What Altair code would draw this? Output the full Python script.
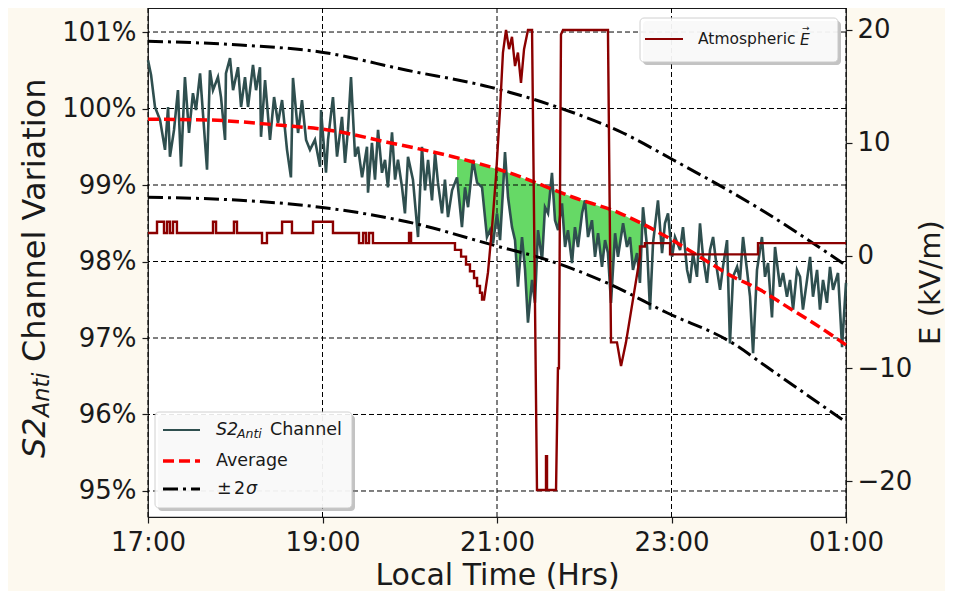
import altair as alt
import numpy as np
import pandas as pd

# ---------------- data (time = minutes after 17:00 local time) ----------------
s2_time = [0, 2.1, 4.8, 8.3, 11.7, 13.8, 15.1, 17.9, 20.6, 22.7, 25.4, 28.2, 30.9, 33.0, 35.8,
           40.6, 42.6, 44.7, 48.1, 50.2, 53.0, 53.6, 56.4, 58.5, 61.9, 64.0, 66.7, 68.8, 72.2,
           74.3, 77.0, 77.7, 80.5, 83.9, 86.7, 89.4, 92.2, 95.6, 98.3, 99.7, 103.2, 105.9,
           108.7, 111.4, 114.8, 118.3, 119.0, 122.4, 123.8, 127.2, 130.0, 133.4, 135.5, 137.5,
           139.6, 142.4, 144.4, 147.2, 150.6, 151.3, 154.0, 156.1, 158.2, 160.9, 163.0, 165.0,
           167.8, 169.9, 171.9, 174.7, 176.7, 178.8, 182.2, 185.7, 188.4, 190.5, 192.6, 195.3,
           197.4, 199.4, 202.2, 204.2, 206.3, 209.1, 212.5, 215.9, 218.0, 220.1, 223.5, 226.3,
           229.7, 233.1, 235.2, 237.3, 240.0, 242.1, 244.1, 245.5, 247.6, 250.3, 252.4, 254.4,
           257.2, 259.3, 261.3, 264.1, 266.1, 268.2, 271.0, 273.0, 275.1, 277.8, 279.9, 282.0,
           284.7, 286.8, 288.8, 291.6, 293.6, 295.7, 298.5, 300.5, 302.6, 305.3, 307.4, 309.5,
           312.2, 314.3, 316.3, 318.4, 321.2, 323.2, 326.7, 329.4, 331.5, 333.5, 336.3, 338.3,
           340.4, 343.2, 345.2, 347.3, 350.7, 353.5, 355.5, 357.6, 360.4, 362.4, 365.9, 367.9,
           370.7, 372.7, 374.8, 377.5, 379.6, 381.7, 384.4, 386.5, 388.6, 391.3, 393.4, 395.4,
           398.2, 400.2, 402.3, 405.1, 407.1, 409.2, 411.9, 414.0, 416.1, 418.8, 422.2, 424.3,
           426.4, 429.1, 431.2, 434.6, 436.7, 439.4, 441.5, 443.6, 446.3, 448.4, 450.4, 453.2,
           455.3, 457.3, 460.1, 462.1, 464.2, 466.9, 469.0, 471.1, 474.5, 477.3, 480.0]
s2_value = [100.63, 100.44, 100.02, 99.85, 99.46, 100.02, 99.37, 99.72, 100.24, 99.24, 100.41,
            99.68, 100.20, 99.98, 100.46, 99.20, 100.50, 100.24, 100.41, 100.15, 99.59, 100.46,
            100.66, 100.24, 100.54, 100.02, 100.41, 100.02, 100.57, 100.24, 100.54, 99.63,
            100.37, 99.59, 100.15, 99.81, 100.11, 99.46, 99.10, 100.40, 99.68, 100.11, 99.59,
            99.46, 99.59, 99.24, 99.98, 99.16, 99.59, 100.15, 99.37, 99.89, 99.29, 99.72,
            100.41, 99.37, 99.50, 99.10, 99.50, 98.90, 99.55, 99.07, 99.72, 99.16, 99.33, 98.97,
            99.69, 99.07, 99.33, 98.97, 98.63, 99.37, 99.07, 98.32, 99.50, 98.93, 99.33, 98.80,
            99.42, 99.03, 98.63, 99.07, 98.58, 98.93, 99.10, 98.45, 98.97, 98.71, 99.33, 99.03,
            98.97, 98.32, 98.41, 98.24, 98.63, 98.28, 98.93, 99.43, 98.84, 98.45, 98.28, 97.67,
            98.32, 97.89, 97.20, 97.76, 97.46, 98.41, 98.02, 98.71, 98.63, 99.16, 98.54, 98.41,
            98.76, 98.19, 98.41, 97.98, 98.45, 98.19, 98.63, 98.80, 98.32, 98.54, 98.06, 98.37,
            97.93, 98.28, 98.11, 97.46, 98.37, 98.06, 98.50, 98.19, 98.32, 97.89, 98.11, 97.72,
            98.71, 98.19, 97.37, 98.24, 98.80, 98.11, 98.50, 98.63, 98.06, 98.32, 98.15, 98.45,
            97.89, 97.72, 98.11, 97.80, 98.50, 98.06, 97.72, 98.15, 98.32, 97.89, 97.63, 97.93,
            98.28, 96.93, 97.80, 97.93, 97.76, 98.32, 97.89, 97.54, 96.80, 97.89, 98.32, 97.80,
            97.98, 97.27, 98.19, 97.67, 97.85, 97.54, 97.76, 97.37, 97.89, 97.80, 97.37, 97.76,
            98.06, 97.54, 97.89, 97.37, 97.76, 97.46, 97.93, 97.63, 97.85, 96.88, 97.72]

avg_time = [0, 41.3, 91.5, 123.8, 164.4, 209.7, 246.9, 292.3, 324.6, 356.9, 379.6, 402.3,
            420.9, 439.4, 457.3, 480]
avg_value = [99.86, 99.85, 99.78, 99.72, 99.56, 99.37, 99.17, 98.84, 98.63, 98.32, 98.06,
             97.80, 97.63, 97.41, 97.20, 96.91]

upper_time = [0, 63.3, 118.3, 178.1, 235.2, 281.3, 326.7, 361.0, 418.8, 480]
upper_value = [100.88, 100.83, 100.74, 100.50, 100.28, 100.02, 99.68, 99.33, 98.71, 97.95]
lower_time = [0, 63.3, 118.3, 178.1, 242.1, 269.6, 315.7, 356.9, 402.3, 425.7, 480]
lower_value = [98.84, 98.80, 98.71, 98.52, 98.19, 98.05, 97.72, 97.33, 96.93, 96.62, 95.90]

efield_time = [0, 6.2, 6.2, 11.0, 11.0, 13.1, 13.1, 15.1, 15.1, 17.2, 17.2, 19.9, 19.9,
               44.7, 44.7, 46.8, 46.8, 59.1, 59.1, 61.2, 61.2, 78.4, 78.4, 81.8, 81.8,
               92.2, 92.2, 99.0, 99.0, 113.5, 113.5, 127.2, 127.2, 145.1, 145.1, 147.9, 147.9,
               149.9, 149.9, 152.0, 152.0, 154.7, 154.7, 179.5, 179.5, 180.9, 180.9,
               211.1, 211.1, 215.3, 215.3, 218.7, 218.7, 221.4, 221.4, 224.2, 224.2, 226.3, 226.3,
               228.3, 228.3, 229.7, 229.7, 231.1, 233.8, 236.6, 239.3, 242.1, 244.1, 246.2,
               248.3, 250.3, 252.4, 254.4, 256.5, 258.6, 261.3, 264.1, 267.5, 273.7, 273.7,
               274.4, 274.4, 280.6, 281.9, 282.6, 284.0, 285.4, 316.3, 318.4, 322.5, 325.3,
               328.7, 338.3, 338.3, 341.7, 341.7, 359.0, 359.0, 419.5, 419.5, 480.0]
efield_value = [2.0, 2.0, 3.0, 3.0, 2.0, 2.0, 3.0, 3.0, 2.0, 2.0, 3.0, 3.0, 2.0,
                2.0, 3.0, 3.0, 2.0, 2.0, 3.0, 3.0, 2.0, 2.0, 1.1, 1.1, 2.0,
                2.0, 3.0, 3.0, 2.0, 2.0, 3.0, 3.0, 2.0, 2.0, 1.1, 1.1, 2.0,
                2.0, 1.1, 1.1, 2.0, 2.0, 1.1, 1.1, 2.0, 2.0, 1.1,
                1.1, 0.5, 0.5, -0.1, -0.1, -0.8, -0.8, -1.4, -1.4, -2.0, -2.0, -2.7,
                -2.7, -3.3, -3.3, -3.9, -3.9, -1.5, 2.5, 7.0, 13.0, 18.0, 20.0,
                18.3, 19.4, 16.8, 18.0, 15.3, 18.3, 20.0, 20.0, -20.8, -20.8, -17.8,
                -17.8, -20.8, -20.8, -10.0, -10.0, 19.6, 20.0, 20.0, -7.7, -7.7, -9.8,
                -7.7, -0.1, 0.8, 0.8, 1.1, 1.1, 0.1, 0.1, 1.1, 1.1]

x_tick_values = [0, 120, 240, 360, 480]
x_tick_labels = ["17:00", "19:00", "21:00", "23:00", "01:00"]
pct_tick_values = [95, 96, 97, 98, 99, 100, 101]
e_tick_values = [-20, -10, 0, 10, 20]
fill_window = [210, 345]

# ---------------- frames ----------------
s2_df = pd.DataFrame({"t": s2_time, "v": s2_value, "i": range(len(s2_time))})
avg_df = pd.DataFrame({"t": avg_time, "v": avg_value})
up_df = pd.DataFrame({"t": upper_time, "v": upper_value})
lo_df = pd.DataFrame({"t": lower_time, "v": lower_value})
e_df = pd.DataFrame({"t": efield_time, "e": efield_value, "i": range(len(efield_time))})

st = np.array(s2_time)
sv = np.array(s2_value)
m = (st >= fill_window[0]) & (st <= fill_window[1])
avg_at = np.interp(st[m], avg_time, avg_value)
fill_df = pd.DataFrame({"t": st[m], "v": np.minimum(sv[m], avg_at), "v2": avg_at})

W, H = 698, 509
FONT = "DejaVu Sans"
xs = alt.Scale(domain=[0, 480], nice=False, zero=False)
ys = alt.Scale(domain=[94.66, 101.314], nice=False, zero=False)
es = alt.Scale(domain=[-23.19, 21.95], nice=False, zero=False)

label_expr_x = "[" + ",".join("'%s'" % s for s in x_tick_labels) + "][round(datum.value/120)]"
x_axis = alt.Axis(values=x_tick_values, labelExpr=label_expr_x, title="Local Time (Hrs)",
                  grid=False, labelPadding=6, labelFlush=False, titleY=67,
                  titleBaseline="alphabetic", titleFontSize=30)
X = alt.X("t:Q", scale=xs, axis=x_axis)
y_axis = alt.Axis(values=pct_tick_values, labelExpr="datum.value + '%'", title=None,
                  grid=False, orient="left", labelPadding=6, labelFlush=False)
Y = alt.Y("v:Q", scale=ys, axis=y_axis)
e_axis = alt.Axis(values=e_tick_values, orient="right", title="E (kV/m)", grid=False,
                  labelPadding=5, labelFlush=False, titleAngle=270, titleX=84, titleY=274,
                  titleAlign="center", titleBaseline="middle", titleFontSize=29)

fill = alt.Chart(fill_df).mark_area(color="#66d966", opacity=1).encode(x=X, y=Y, y2="v2:Q")
hgrid = alt.Chart(pd.DataFrame({"v": pct_tick_values})).mark_rule(
    color="black", strokeDash=[5, 3], strokeWidth=1).encode(y=Y)
vgrid = alt.Chart(pd.DataFrame({"t": x_tick_values})).mark_rule(
    color="black", strokeDash=[5, 3], strokeWidth=1).encode(x=X)
s2_line = alt.Chart(s2_df).mark_line(color="#2f4f4f", strokeWidth=2.6).encode(
    x=X, y=Y, order="i:Q")
avg_line = alt.Chart(avg_df).mark_line(color="#ff0000", strokeWidth=3.5, strokeDash=[11, 5],
                                       interpolate="monotone").encode(x=X, y=Y)
up_line = alt.Chart(up_df).mark_line(color="black", strokeWidth=3, strokeDash=[15, 5, 3, 5],
                                     interpolate="monotone").encode(x=X, y=Y)
lo_line = alt.Chart(lo_df).mark_line(color="black", strokeWidth=3, strokeDash=[15, 5, 3, 5],
                                     interpolate="monotone").encode(x=X, y=Y)

left = alt.layer(fill, hgrid, vgrid, s2_line, avg_line, up_line, lo_line)

e_line = alt.Chart(e_df).mark_line(color="#8b0000", strokeWidth=2.4).encode(
    x=X, y=alt.Y("e:Q", scale=es, axis=e_axis), order="i:Q")

dummy = pd.DataFrame({"d": [0]})


def rect(x1, y1, x2, y2, **kw):
    return alt.Chart(dummy).mark_rect(**kw).encode(
        x=alt.value(x1), x2=alt.value(x2), y=alt.value(y1), y2=alt.value(y2))


def seg(x1, x2, y, **kw):
    return alt.Chart(dummy).mark_rule(**kw).encode(
        x=alt.value(x1), x2=alt.value(x2), y=alt.value(y))


def txt(x, y, s, size, style="normal", angle=0, align="left", baseline="middle"):
    return alt.Chart(dummy).mark_text(text=s, font=FONT, fontSize=size, fontStyle=style,
                                      angle=angle, align=align, baseline=baseline,
                                      color="#1a1a1a").encode(x=alt.value(x), y=alt.value(y))


legend_left = [
    rect(10, 407, 207, 503, fill="#888888", opacity=0.5, cornerRadius=4),
    rect(7, 404, 204, 500, fill="white", opacity=0.9, stroke="#cccccc", strokeWidth=1,
         cornerRadius=4),
    seg(15, 52, 422, color="#2f4f4f", strokeWidth=2.2),
    seg(15, 52, 453, color="#ff0000", strokeWidth=3.5, strokeDash=[11, 5]),
    seg(15, 52, 481, color="black", strokeWidth=3, strokeDash=[15, 5, 3, 5]),
    txt(68, 422, "S2", 17.5, "italic"),
    txt(89, 426, "Anti", 12.5, "italic"),
    txt(122, 422, "Channel", 17.5),
    txt(68, 453, "Average", 17.5),
    txt(69, 481, "\u00b1", 17.5),
    txt(86, 481, "2", 17.5),
    txt(98, 481, "\u03c3", 17.5, "italic"),
]
legend_right = [
    rect(495, 13, 693, 57, fill="#888888", opacity=0.5, cornerRadius=4),
    rect(492, 10, 690, 54, fill="white", opacity=0.9, stroke="#cccccc", strokeWidth=1,
         cornerRadius=4),
    seg(497, 535, 31, color="#8b0000", strokeWidth=2.2),
    txt(550, 31, "Atmospheric", 15.5),
    txt(652, 32, "E", 15.5, "italic"),
    txt(654, 20, "\u2192", 9),
]
left_title = [
    txt(-113, 450, "S2", 32, "italic", angle=270),
    txt(-106, 409, "Anti", 22.4, "italic", angle=270),
    txt(-113, 354, "Channel Variation", 32, angle=270),
]

top = alt.layer(left, e_line, *legend_left, *legend_right, *left_title).resolve_scale(
    y="independent")

chart = top.properties(
    width=W, height=H,
    padding={"left": 140, "top": 0, "right": 99, "bottom": 74},
    autosize=alt.AutoSizeParams(type="none"),
    background="#fdf9ef",
).configure_view(
    stroke="#1a1a1a", strokeWidth=1.2, fill="white"
).configure_axis(
    labelFont=FONT, titleFont=FONT, labelFontSize=26, titleFontSize=31,
    labelColor="#1a1a1a", titleColor="#1a1a1a", tickColor="#1a1a1a",
    tickSize=6, tickWidth=1.2, domain=False, titleFontWeight="normal",
)

chart.save("out.html", embed_options={"renderer": "svg", "actions": False})
